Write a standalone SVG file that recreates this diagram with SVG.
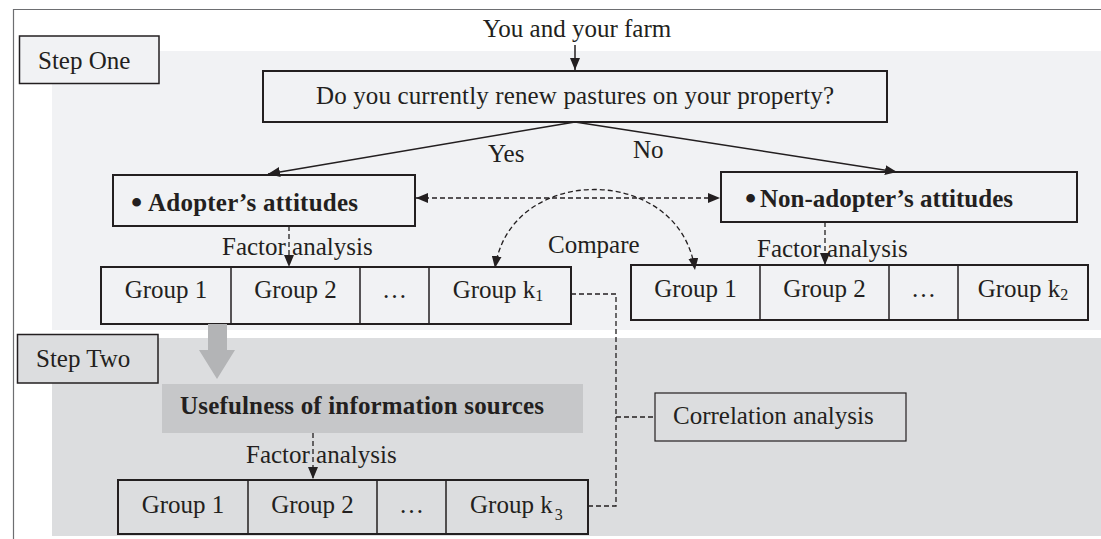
<svg xmlns="http://www.w3.org/2000/svg" width="1101" height="539" viewBox="0 0 1101 539">
<defs>
<style>
text{font-family:"Liberation Serif","Times New Roman",serif;font-size:25px;fill:#231f20}
.b{font-weight:bold}
.m{text-anchor:middle}
.bul{font-size:32px;font-weight:bold}
.box{stroke:#231f20;stroke-width:2;fill:#f1f2f4}
.box2{stroke:#231f20;stroke-width:2;fill:#dcdddf}
.ln{stroke:#231f20;stroke-width:1.5;fill:none}
.dash{stroke:#231f20;stroke-width:1.3;fill:none;stroke-dasharray:5 3}
</style>
<marker id="ah" viewBox="0 0 12 10" refX="12" refY="5" markerWidth="12" markerHeight="10" markerUnits="userSpaceOnUse" orient="auto-start-reverse">
<path d="M0 0L12 5L0 10z" fill="#231f20"/>
</marker>
</defs>
<rect width="1101" height="539" fill="#fff"/>
<g id="backgrounds">
<rect x="52" y="51" width="1049" height="279" fill="#f1f2f4"/>
<rect x="52" y="338" width="1049" height="198" fill="#dcdddf"/>
<path d="M13.5 539V9.5H1101" stroke="#6d6e71" stroke-width="1.2" fill="none"/>
</g>
<g id="step-one">
<rect x="19.5" y="36" width="139.5" height="47.5" fill="#f1f2f4" stroke="#231f20" stroke-width="1.5"/>
<text x="38" y="69">Step One</text>
</g>
<g id="step-two">
<rect x="17.5" y="334.5" width="140.5" height="48.5" fill="#dcdddf" stroke="#231f20" stroke-width="1.5"/>
<text x="36" y="367">Step Two</text>
</g>
<g id="farm"><text class="m" x="577" y="37">You and your farm</text></g>
<g id="question">
<rect class="box" x="263" y="71" width="624" height="51"/>
<text class="m" x="575" y="104" textLength="518">Do you currently renew pastures on your property?</text>
</g>
<g id="adopter">
<rect class="box" x="113" y="175" width="302" height="51"/>
<text class="bul" x="131" y="213">•</text>
<text class="b" x="148" y="211" textLength="210">Adopter’s attitudes</text>
</g>
<g id="non-adopter">
<rect class="box" x="721" y="172" width="356" height="50"/>
<text class="bul" x="745" y="209">•</text>
<text class="b" x="760" y="207" textLength="253">Non-adopter’s attitudes</text>
</g>
<g id="groups-adopter">
<rect class="box" x="101" y="267" width="470" height="57"/>
<path class="ln" d="M231 267V324M360 267V324M429 267V324" stroke-width="2"/>
<text class="m" x="166" y="298">Group 1</text>
<text class="m" x="295.5" y="298">Group 2</text>
<text class="m" x="394.5" y="298">…</text>
<text class="m" x="498" y="298">Group k<tspan font-size="16" dy="3">1</tspan></text>
</g>
<g id="groups-non-adopter">
<rect class="box" x="631" y="265" width="457" height="55"/>
<path class="ln" d="M760 265V320M889 265V320M958 265V320" stroke-width="2"/>
<text class="m" x="695.5" y="297">Group 1</text>
<text class="m" x="824.5" y="297">Group 2</text>
<text class="m" x="923.5" y="297">…</text>
<text class="m" x="1023" y="297">Group k<tspan font-size="16" dy="3">2</tspan></text>
</g>
<g id="usefulness">
<rect x="162" y="384" width="421" height="49" fill="#c6c7c9"/>
<text class="b" x="180" y="414" textLength="364">Usefulness of information sources</text>
</g>
<g id="groups-info">
<rect class="box2" x="118" y="480" width="470" height="54"/>
<path class="ln" d="M248 480V534M377 480V534M446 480V534" stroke-width="2"/>
<text class="m" x="183" y="513">Group 1</text>
<text class="m" x="312.5" y="513">Group 2</text>
<text class="m" x="411.5" y="513">…</text>
<text x="470" y="513">Group k<tspan font-size="16" dx="2" dy="7">3</tspan></text>
</g>
<g id="correlation">
<rect x="655" y="393" width="251" height="48" fill="#dcdddf" stroke="#231f20" stroke-width="1.2"/>
<text x="673" y="424">Correlation analysis</text>
</g>
<g id="connectors">
<path class="ln" d="M575 45V70" marker-end="url(#ah)"/>
<path class="ln" d="M575 122L268 174" marker-end="url(#ah)"/>
<path class="ln" d="M575 122L897 172" marker-end="url(#ah)"/>
<path class="dash" d="M416 198H720" marker-start="url(#ah)" marker-end="url(#ah)"/>
<path class="dash" d="M495 268C510 163 680 163 695 270" marker-start="url(#ah)" marker-end="url(#ah)"/>
<path class="dash" d="M289 226V267" marker-end="url(#ah)"/>
<path class="dash" d="M825 222V265" marker-end="url(#ah)"/>
<path class="dash" d="M313 433V479" marker-end="url(#ah)"/>
<path class="dash" d="M571 294H616V506H588M616 417H655"/>
<polygon points="208,324 227,324 227,350 235,350 217,379 199,350 208,350" fill="#b3b4b6"/>
</g>
<g id="labels">
<text x="488" y="162">Yes</text>
<text x="633" y="158">No</text>
<text x="548" y="253">Compare</text>
<text x="222" y="255">Factor analysis</text>
<text x="757" y="257">Factor analysis</text>
<text x="246" y="463">Factor analysis</text>
</g>
</svg>
